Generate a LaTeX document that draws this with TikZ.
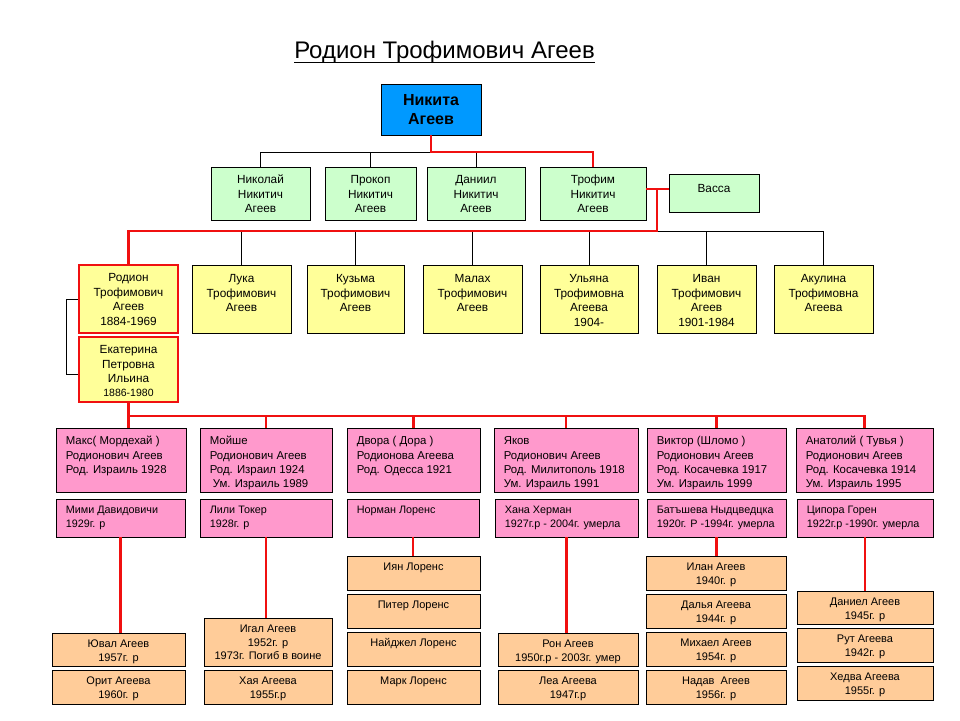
\documentclass[tikz,border=0pt]{standalone}
\usepackage{fontspec}
\setmainfont{Liberation Sans}
\usepackage{tikz}
\usetikzlibrary{calc,positioning}

\definecolor{nikblue}{RGB}{0,153,255}
\definecolor{sonsgreen}{RGB}{204,255,204}
\definecolor{kidsyellow}{RGB}{255,255,153}
\definecolor{grandpink}{RGB}{255,153,204}
\definecolor{greatorange}{RGB}{255,204,153}
\definecolor{linered}{RGB}{240,16,16}

\tikzset{
  famline/.style={line width=0.8pt, black},
  redline/.style={line width=2.6pt, linered},
  anybox/.style={draw, line width=0.8pt, inner sep=0pt},
  nikbox/.style={anybox, fill=nikblue, align=center, font=\fontsize{16}{19}\selectfont\bfseries},
  gbox/.style={anybox, fill=sonsgreen},
  ybox/.style={anybox, fill=kidsyellow},
  rybox/.style={anybox, fill=kidsyellow, draw=linered, line width=2.6pt},
  pbox/.style={anybox, fill=grandpink},
  obox/.style={anybox, fill=greatorange},
  ctext/.style={align=center, inner sep=0pt, font=\fontsize{11.8}{14.4}\selectfont},
  otext/.style={align=center, inner sep=0pt, font=\fontsize{11}{13.5}\selectfont},
  ltext/.style={align=left, inner sep=0pt, font=\fontsize{11.4}{14.2}\selectfont},
  stext/.style={align=left, inner sep=0pt, font=\fontsize{10.8}{13.8}\selectfont}
}

% box with centred text: name, style, x1, y1, x2, y2, baseline drop, text
\newcommand{\cbox}[8]{%
  \node[#2, minimum width={#5-#3}, minimum height={#6-#4}] (#1) at ({(#3+#5)/2},{(#4+#6)/2}) {};
  \node[ctext, anchor=north] (#1-t) at ([yshift={-(#7-10)}]#1.north) {\rule{0pt}{10pt}#8};}
% same, smaller line pitch for the last generation
\newcommand{\obox}[7]{%
  \node[obox, minimum width={#4-#2}, minimum height={#5-#3}] (#1) at ({(#2+#4)/2},{(#3+#5)/2}) {};
  \node[otext, anchor=north] (#1-t) at ([yshift=-5]#1.north) {\rule{0pt}{10pt}#7#6};}
% box with text flush left: name, text style, x1, y1, x2, y2, baseline drop, text
\newcommand{\lbox}[8]{%
  \node[pbox, minimum width={#5-#3}, minimum height={#6-#4}] (#1) at ({(#3+#5)/2},{(#4+#6)/2}) {};
  \node[#2, anchor=north west] (#1-t) at ([xshift=10, yshift={-(#7-10)}]#1.north west) {\rule{0pt}{10pt}#8};}

\begin{document}
\begin{tikzpicture}[x=1pt, y=-1pt]

\useasboundingbox (0,0) rectangle (960,720);

% title
\node[inner sep=0pt, anchor=base, font=\fontsize{24}{28}\selectfont] (title) at (444.5,58) {Родион Трофимович Агеев};
\draw[line width=1pt] ([yshift=-4pt]title.base west) -- ([yshift=-4pt]title.base east);

% Nikita and his sons
\node[nikbox, minimum width=100, minimum height=51] (nikita) at (431,109.5) {Никита\\Агеев};

\cbox{nikolai}{gbox}{211}{167}{310}{220}{17}{Николай\\Никитич\\Агеев}
\cbox{prokop}{gbox}{325}{167}{416}{220}{17}{Прокоп\\Никитич\\Агеев}
\cbox{daniil}{gbox}{427}{167}{525}{220}{17}{Даниил\\Никитич\\Агеев}
\cbox{trofim}{gbox}{540}{167}{646}{220}{17}{Трофим\\Никитич\\Агеев}
\cbox{vassa}{gbox}{669}{174}{759}{212}{19}{Васса}

% children of Trofim
\cbox{rodion}{rybox}{79}{265}{178}{333}{18}{Родион\\Трофимович\\Агеев\\1884-1969}
\cbox{ekaterina}{rybox}{79}{337}{178}{402}{18}{Екатерина\\Петровна\\Ильина\\[-1pt]{\fontsize{10.5}{12}\selectfont 1886-1980}}
\cbox{luka}{ybox}{192}{265}{291}{333}{18}{Лука\\Трофимович\\Агеев}
\cbox{kuzma}{ybox}{307}{265}{404}{333}{18}{Кузьма\\Трофимович\\Агеев}
\cbox{malah}{ybox}{423}{265}{522}{333}{18}{Малах\\Трофимович\\Агеев}
\cbox{ulyana}{ybox}{540}{265}{638}{333}{18}{Ульяна\\Трофимовна\\Агеева\\1904-}
\cbox{ivan}{ybox}{657}{265}{756}{333}{18}{Иван\\Трофимович\\Агеев\\1901-1984}
\cbox{akulina}{ybox}{774}{265}{873}{333}{18}{Акулина\\Трофимовна\\Агеева}

% children of Rodion
\lbox{max}{ltext}{56}{428}{186}{492}{17}{Макс( Мордехай )\\Родионович Агеев\\Род. Израиль 1928}
\lbox{mojshe}{ltext}{200}{428}{332}{492}{17}{Мойше\\Родионович Агеев\\Род. Израил 1924\\\hspace{3pt}Ум. Израиль 1989}
\lbox{dvora}{ltext}{347}{428}{480}{492}{17}{Двора ( Дора )\\Родионова Агеева\\Род. Одесса 1921}
\lbox{yakov}{ltext}{494}{428}{638}{492}{17}{Яков\\Родионович Агеев\\Род. Милитополь 1918\\Ум. Израиль 1991}
\lbox{viktor}{ltext}{647}{428}{786}{492}{17}{Виктор (Шломо )\\Родионович Агеев\\Род. Косачевка 1917\\Ум. Израиль 1999}
\lbox{anatoly}{ltext}{796}{428}{933}{492}{17}{Анатолий ( Тувья )\\Родионович Агеев\\Род. Косачевка 1914\\Ум. Израиль 1995}

% their wives and husbands
\lbox{mimi}{stext}{56}{499}{185}{537}{15}{Мими Давидовичи\\1929г. р}
\lbox{lili}{stext}{200}{499}{332}{537}{15}{Лили Токер\\1928г. р}
\lbox{norman}{stext}{347}{499}{479}{537}{15}{Норман Лоренс}
\lbox{hana}{stext}{495}{499}{638}{537}{15}{Хана Херман\\1927г.р - 2004г. умерла}
\lbox{batsheva}{stext}{647}{499}{786}{537}{15}{Батъшева Ныдцведцка\\1920г. Р -1994г. умерла}
\lbox{tsipora}{stext}{797}{499}{933}{537}{15}{Ципора Горен\\1922г.р -1990г. умерла}

% grandchildren
\obox{yuval}{52}{633}{185}{666}{\\1957г. р}{Ювал Агеев}
\obox{orit}{52}{670}{185}{704}{\\1960г. р}{Орит Агеева}
\obox{igal}{204}{618}{332}{666}{\\1952г. р\\1973г. Погиб в воине}{Игал Агеев}
\obox{haya}{204}{670}{332}{704}{\\1955г.р}{Хая Агеева}
\obox{iyan}{347}{556}{480}{590}{}{Иян Лоренс}
\obox{piter}{347}{594}{480}{628}{}{Питер Лоренс}
\obox{naidzhel}{347}{632}{480}{666}{}{Найджел Лоренс}
\obox{mark}{347}{670}{480}{704}{}{Марк Лоренс}
\obox{ron}{498}{633}{638}{666}{\\1950г.р - 2003г. умер}{Рон Агеев}
\obox{lea}{498}{670}{638}{704}{\\1947г.р}{Леа Агеева}
\obox{ilan}{646}{556}{786}{590}{\\1940г. р}{Илан Агеев}
\obox{dalya}{646}{594}{786}{628}{\\1944г. р}{Далья Агеева}
\obox{mikhael}{646}{632}{786}{666}{\\1954г. р}{Михаел Агеев}
\obox{nadav}{646}{670}{786}{704}{\\1956г. р}{Надав\ \ Агеев}
\obox{daniel}{797}{591}{933}{624}{\\1945г. р}{Даниел Агеев}
\obox{rut}{797}{628}{933}{662}{\\1942г. р}{Рут Агеева}
\obox{hedva}{797}{666}{933}{700}{\\1955г. р}{Хедва Агеева}

% connectors, black first, red on top
\coordinate (nikbus) at (431,152);
\coordinate (tvknot) at (657,189);
\coordinate (trofbus) at (657,231);
\coordinate (rodbus) at (128.5,416);

\foreach \s in {nikolai,prokop,daniil}
  \draw[famline] (nikbus) -| (\s.north);
\foreach \c in {luka,kuzma,malah,ulyana,ivan,akulina}
  \draw[famline] (trofbus) -| (\c.north);
\draw[famline] (rodion.west) -- ++(-11,0) |- ([yshift=-5pt]ekaterina.west);

\draw[redline] (nikita.south) -- (nikbus) -| (trofim.north);
\draw[redline] (trofim.east |- tvknot) -- (vassa.west |- tvknot);
\draw[redline] (tvknot) -- (trofbus) -| (rodion.north);
\draw[redline] (ekaterina.south) -- (ekaterina.south |- max.north);
\foreach \k in {mojshe,dvora,yakov,viktor,anatoly}
  \draw[redline] (rodbus) -| (\k.north);

\draw[redline] (mimi.south) -- (mimi.south |- yuval.north);
\draw[redline] (lili.south) -- (lili.south |- igal.north);
\draw[redline] (norman.south) -- (norman.south |- iyan.north);
\draw[redline] (hana.south) -- (hana.south |- ron.north);
\draw[redline] (batsheva.south) -- (batsheva.south |- ilan.north);
\draw[redline] (tsipora.south) -- (tsipora.south |- daniel.north);

\end{tikzpicture}
\end{document}
